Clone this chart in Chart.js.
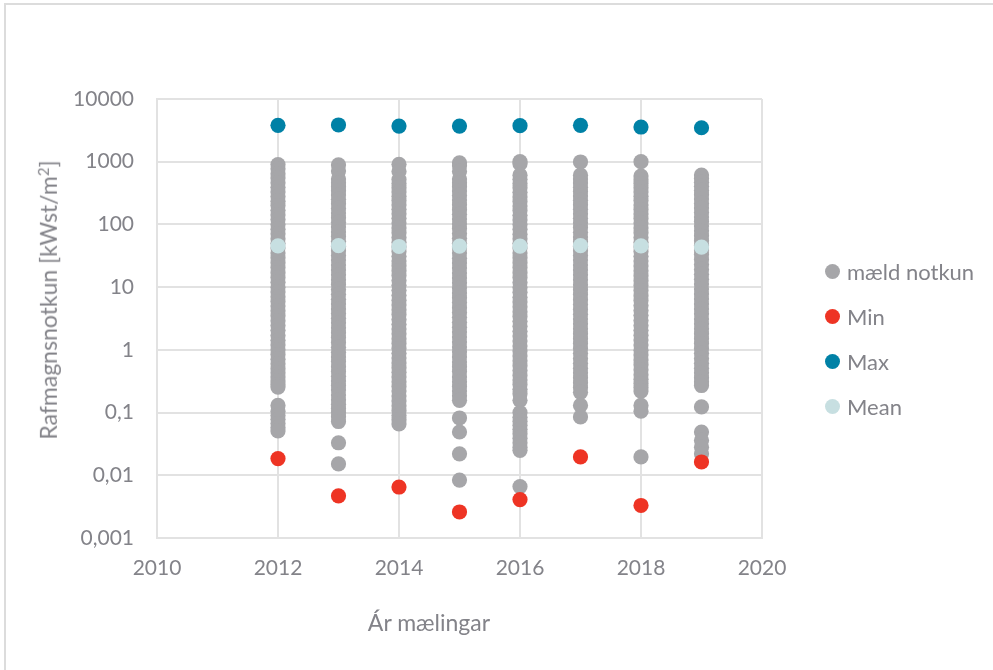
<!DOCTYPE html>
<html>
<head>
<meta charset="utf-8">
<script src="https://cdn.jsdelivr.net/npm/chart.js@4/dist/chart.umd.min.js"></script>
<style>
  html, body { margin: 0; padding: 0; background: #ffffff; }
  #wrap { position: relative; width: 993px; height: 670px; overflow: hidden; font-family: Lato, "Open Sans", sans-serif; color: #838389; }
  #frame { position: absolute; left: 4px; top: 3px; width: 1000px; height: 700px; border: 2px solid #dcdcdc; box-sizing: border-box; }
  #chart { position: absolute; left: 0; top: 0; }
  .axis-title { position: absolute; white-space: nowrap; font-size: 23px; line-height: 1; }
  #ytitle { left: 48px; top: 300px; transform: translate(-50%, -50%) rotate(-90deg); }
  #xtitle { left: 429px; top: 622px; transform: translate(-50%, -50%); }
  #legend { position: absolute; left: 825px; top: 249px; }
  .lg-item { display: flex; align-items: center; height: 45px; font-size: 22px; }
  .lg-dot { width: 15px; height: 15px; border-radius: 50%; margin-right: 7px; flex: none; }
</style>
</head>
<body>
<div id="wrap">
  <div id="frame"></div>
  <canvas id="chart" width="993" height="670"></canvas>
  <div class="axis-title" id="ytitle">Rafmagnsnotkun [kWst/m<sup style="font-size:0.65em;vertical-align:0.55em">2</sup>]</div>
  <div class="axis-title" id="xtitle">Ár mælingar</div>
  <div id="legend"></div>
</div>
<script>
// Measurement years
const years = [2012, 2013, 2014, 2015, 2016, 2017, 2018, 2019];

// Measured consumption per building, kWst/m², by year
const measured2012 = [900, 770, 640, 550, 460, 390, 330, 280, 235, 200, 168, 142, 120, 100, 84, 71, 59, 50, 42, 35, 29.5, 24.5, 20.5, 17, 14.2, 12, 10, 8.4, 7, 5.9, 5, 4.2, 3.5, 2.9, 2.45, 2.05, 1.7, 1.42, 1.2, 1, 0.84, 0.71, 0.6, 0.5, 0.43, 0.37, 0.32, 0.28, 0.255, 0.13, 0.105, 0.09, 0.078, 0.067, 0.058, 0.051];
const measured2013 = [890, 710, 530, 460, 400, 345, 295, 252, 214, 180, 152, 128, 108, 91, 76, 64, 54, 45, 38, 32, 27, 22.5, 18.8, 15.7, 13.1, 11, 9.2, 7.7, 6.4, 5.4, 4.5, 3.8, 3.2, 2.7, 2.25, 1.88, 1.57, 1.31, 1.1, 0.92, 0.77, 0.65, 0.54, 0.45, 0.38, 0.32, 0.27, 0.23, 0.19, 0.16, 0.136, 0.116, 0.1, 0.086, 0.072, 0.033, 0.0152];
const measured2014 = [910, 700, 520, 450, 385, 330, 282, 240, 205, 174, 148, 125, 105, 88, 74, 62, 52, 44, 37, 31, 26, 22, 18.3, 15.3, 12.8, 10.7, 8.9, 7.4, 6.2, 5.2, 4.35, 3.65, 3.05, 2.55, 2.15, 1.8, 1.5, 1.26, 1.05, 0.88, 0.74, 0.62, 0.52, 0.44, 0.37, 0.31, 0.26, 0.22, 0.183, 0.153, 0.128, 0.107, 0.09, 0.077, 0.066];
const measured2015 = [960, 860, 700, 530, 460, 400, 340, 290, 245, 206, 172, 145, 122, 102, 86, 72, 60, 50, 42, 35, 29, 24.3, 20.2, 16.8, 14, 11.7, 9.7, 8.1, 6.8, 5.7, 4.7, 3.95, 3.3, 2.75, 2.3, 1.92, 1.6, 1.33, 1.11, 0.93, 0.77, 0.64, 0.54, 0.45, 0.37, 0.31, 0.26, 0.22, 0.185, 0.157, 0.082, 0.049, 0.022, 0.0084];
const measured2016 = [1000, 930, 610, 525, 450, 385, 325, 275, 232, 196, 166, 140, 118, 100, 84, 70, 59, 50, 42, 35, 29.5, 24.5, 20.5, 17, 14.2, 11.9, 9.9, 8.3, 6.9, 5.8, 4.85, 4.05, 3.4, 2.85, 2.38, 1.98, 1.66, 1.38, 1.15, 0.96, 0.8, 0.67, 0.56, 0.47, 0.39, 0.33, 0.28, 0.235, 0.2, 0.157, 0.1, 0.084, 0.073, 0.063, 0.054, 0.046, 0.039, 0.033, 0.028, 0.025, 0.0066];
const measured2017 = [990, 610, 530, 458, 392, 335, 285, 243, 206, 175, 148, 125, 106, 89, 75, 63, 53, 45, 38, 32, 27, 22.5, 18.8, 15.7, 13.1, 10.9, 9.1, 7.6, 6.3, 5.3, 4.4, 3.7, 3.1, 2.6, 2.17, 1.81, 1.51, 1.26, 1.05, 0.88, 0.73, 0.61, 0.51, 0.43, 0.36, 0.3, 0.25, 0.21, 0.13, 0.085];
const measured2018 = [1000, 590, 515, 448, 385, 330, 282, 240, 204, 173, 147, 124, 105, 88, 74, 62, 52, 44, 37, 31, 26, 21.8, 18.2, 15.2, 12.7, 10.6, 8.8, 7.3, 6.1, 5.1, 4.25, 3.55, 2.95, 2.45, 2.05, 1.71, 1.43, 1.19, 0.99, 0.83, 0.69, 0.58, 0.48, 0.4, 0.34, 0.29, 0.25, 0.22, 0.13, 0.105, 0.0196];
const measured2019 = [613, 540, 470, 405, 348, 298, 254, 216, 183, 155, 131, 111, 94, 79, 66, 55, 46, 39, 33, 27.5, 23, 19.2, 16, 13.4, 11.2, 9.3, 7.8, 6.5, 5.4, 4.5, 3.75, 3.1, 2.6, 2.17, 1.81, 1.51, 1.26, 1.05, 0.88, 0.73, 0.61, 0.51, 0.43, 0.36, 0.31, 0.27, 0.123, 0.049, 0.036, 0.028, 0.022];
const measuredByYear = [measured2012, measured2013, measured2014, measured2015, measured2016, measured2017, measured2018, measured2019];

// Yearly summary values
const minValues  = [0.0185, 0.0047, 0.0065, 0.0026, 0.0041, 0.0196, 0.0033, 0.0163];
const maxValues  = [3800, 3850, 3700, 3700, 3750, 3800, 3575, 3480];
const meanValues = [45.6, 46, 44.5, 45, 45, 46, 45.5, 43.5];

// Axis ticks
const yTickValues = [0.001, 0.01, 0.1, 1, 10, 100, 1000, 10000];
const yTickLabels = ['0,001', '0,01', '0,1', '1', '10', '100', '1000', '10000'];
const xMin = 2010, xMax = 2020, xStep = 2;

const seriesNames = ['mæld notkun', 'Min', 'Max', 'Mean'];
const seriesColors = ['#a6a6a9', '#ee3424', '#0081a6', '#c7dfe1'];

const measuredPoints = [];
years.forEach((yr, i) => measuredByYear[i].forEach(v => measuredPoints.push({ x: yr, y: v })));
const pair = arr => years.map((yr, i) => ({ x: yr, y: arr[i] }));

const TEXT = '#838389';
const GRID = '#e2e2e2';
const FONT = { family: 'Lato, "Open Sans", sans-serif', size: 21 };

const mk = (idx, data, order) => ({
  label: seriesNames[idx],
  data,
  order,
  showLine: false,
  pointRadius: 7.6,
  pointHoverRadius: 7.6,
  pointBorderWidth: 0,
  pointBackgroundColor: seriesColors[idx],
  backgroundColor: seriesColors[idx],
  borderColor: seriesColors[idx]
});

new Chart(document.getElementById('chart'), {
  type: 'scatter',
  data: {
    datasets: [
      mk(0, measuredPoints, 4),
      mk(1, pair(minValues), 1),
      mk(2, pair(maxValues), 2),
      mk(3, pair(meanValues), 3)
    ]
  },
  options: {
    responsive: false,
    animation: false,
    events: [],
    layout: { padding: { top: 99, right: 231, left: 0, bottom: 0 } },
    plugins: { legend: { display: false }, tooltip: { enabled: false } },
    scales: {
      x: {
        type: 'linear',
        min: xMin, max: xMax,
        afterFit: s => { s.height = 132; },
        ticks: { stepSize: xStep, color: TEXT, font: FONT, padding: 18, callback: v => String(v) },
        grid: { color: GRID, lineWidth: 2, drawTicks: false },
        border: { color: GRID, width: 2 }
      },
      y: {
        type: 'logarithmic',
        min: yTickValues[0], max: yTickValues[yTickValues.length - 1],
        afterBuildTicks: s => { s.ticks = yTickValues.map(v => ({ value: v, major: true })); },
        afterFit: s => { s.width = 157; },
        ticks: {
          color: TEXT, font: FONT, padding: 23,
          callback: v => { const k = yTickValues.indexOf(v); return k >= 0 ? yTickLabels[k] : null; }
        },
        grid: { color: GRID, lineWidth: 2, drawTicks: false },
        border: { color: GRID, width: 2 }
      }
    }
  }
});

// Legend
const legend = document.getElementById('legend');
seriesNames.forEach((name, i) => {
  const row = document.createElement('div');
  row.className = 'lg-item';
  const dot = document.createElement('span');
  dot.className = 'lg-dot';
  dot.style.background = seriesColors[i];
  const txt = document.createElement('span');
  txt.textContent = name;
  row.appendChild(dot);
  row.appendChild(txt);
  legend.appendChild(row);
});
</script>
</body>
</html>
